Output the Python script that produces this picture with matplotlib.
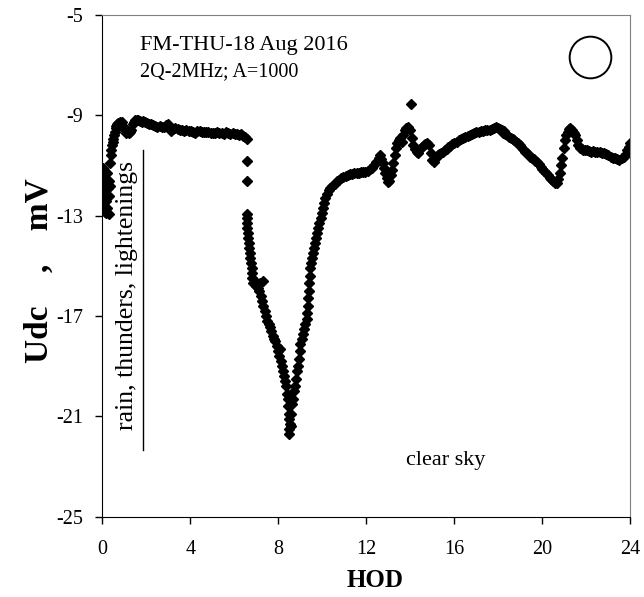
import numpy as np
import matplotlib
matplotlib.use('Agg')
import matplotlib.pyplot as plt

# hour of day / Udc (mV)
hod_start = [0.02, 0.04, 0.05, 0.07, 0.08, 0.10, 0.12, 0.14, 0.16, 0.18, 0.20, 0.22, 0.25, 0.28,
             0.30, 0.32, 0.34, 0.36, 0.38, 0.40, 0.43, 0.46, 0.50, 0.53, 0.57, 0.60, 0.64, 0.68,
             0.72, 0.78, 0.84, 0.90, 0.96, 1.02, 1.08, 1.14, 1.20, 1.26, 1.32, 1.38, 1.44, 1.50,
             1.56, 1.62, 1.70, 1.78, 1.86, 1.94, 2.02, 2.10, 2.20, 2.30, 2.40, 2.50, 2.60, 2.70,
             2.80, 2.90, 2.98, 3.06, 3.14, 3.22, 3.32, 3.42, 3.52, 3.62, 3.72, 3.82, 3.92, 4.02,
             4.12, 4.22, 4.32, 4.42, 4.52, 4.62, 4.72, 4.82, 4.92, 5.02, 5.12, 5.22, 5.32, 5.42,
             5.52, 5.62, 5.72, 5.82, 5.92, 6.02, 6.12, 6.22, 6.32, 6.40, 6.48, 6.55]
udc_start = [-11.1, -11.7, -12.3, -11.2, -12.6, -12.0, -12.85, -11.5, -12.4, -12.9, -11.3, -12.7,
             -11.9, -11.6, -12.95, -12.2, -11.8, -10.9, -10.6, -10.4, -10.2, -10.05, -9.95, -9.8,
             -9.65, -9.5, -9.42, -9.35, -9.3, -9.25, -9.3, -9.28, -9.45, -9.6, -9.7, -9.68, -9.72,
             -9.66, -9.6, -9.35, -9.25, -9.2, -9.18, -9.2, -9.22, -9.25, -9.24, -9.28, -9.3, -9.33,
             -9.35, -9.38, -9.42, -9.45, -9.44, -9.48, -9.45, -9.4, -9.35, -9.48, -9.62, -9.55,
             -9.52, -9.55, -9.6, -9.58, -9.62, -9.6, -9.64, -9.62, -9.66, -9.7, -9.62, -9.64,
             -9.66, -9.65, -9.67, -9.68, -9.72, -9.7, -9.72, -9.68, -9.72, -9.7, -9.74, -9.66,
             -9.72, -9.74, -9.72, -9.76, -9.74, -9.78, -9.76, -9.82, -9.86, -9.95]

hod_dip = [6.57, 6.57, 6.55, 6.56, 6.57, 6.58, 6.60, 6.62, 6.65, 6.68, 6.70, 6.72, 6.75, 6.78,
           6.80, 6.82, 6.86, 6.92, 6.98, 7.05, 7.10, 7.15, 7.20, 7.25, 7.30, 7.32, 7.38, 7.44,
           7.50, 7.56, 7.62, 7.68, 7.74, 7.80, 7.86, 7.92, 7.98, 8.03, 8.06, 8.10, 8.15, 8.20,
           8.25, 8.30, 8.35, 8.38, 8.42, 8.45, 8.48, 8.50, 8.52, 8.48, 8.50, 8.55, 8.58, 8.62,
           8.68, 8.72, 8.76, 8.80, 8.84, 8.88, 8.92, 8.96, 9.00, 9.05, 9.10, 9.16, 9.22, 9.28,
           9.32, 9.35, 9.36, 9.38, 9.40, 9.42, 9.45, 9.48, 9.52, 9.56, 9.60, 9.65, 9.70, 9.75,
           9.80, 9.86, 9.92, 9.97, 10.02, 10.07, 10.13, 10.20, 10.28, 10.36]
udc_dip = [-10.82, -11.62, -12.95, -13.1, -13.3, -13.5, -13.7, -13.9, -14.1, -14.3, -14.5, -14.7,
           -14.9, -15.1, -15.3, -15.5, -15.7, -15.6, -15.8, -15.9, -16.0, -15.7, -16.2, -16.4,
           -15.6, -16.6, -16.8, -17.0, -17.2, -17.3, -17.45, -17.6, -17.8, -17.9, -18.0, -18.2,
           -18.4, -18.6, -18.3, -18.8, -19.0, -19.2, -19.4, -19.6, -19.8, -20.1, -20.3, -20.6,
           -20.9, -21.1, -21.3, -21.5, -21.7, -21.4, -20.9, -20.5, -20.3, -20.0, -19.8, -19.5,
           -19.2, -19.0, -18.7, -18.4, -18.1, -17.9, -17.7, -17.5, -17.3, -17.1, -16.9, -16.6,
           -16.3, -16.0, -15.7, -15.4, -15.1, -14.9, -14.7, -14.5, -14.3, -14.1, -13.9, -13.7,
           -13.5, -13.3, -13.1, -12.9, -12.7, -12.5, -12.3, -12.15, -11.98, -11.88]

hod_end = [10.45, 10.55, 10.65, 10.75, 10.85, 10.95, 11.05, 11.15, 11.25, 11.35, 11.45, 11.55,
           11.65, 11.75, 11.85, 11.95, 12.05, 12.15, 12.25, 12.35, 12.45, 12.55, 12.62, 12.68,
           12.74, 12.80, 12.86, 12.92, 12.98, 13.04, 13.10, 13.16, 13.22, 13.28, 13.34, 13.40,
           13.46, 13.52, 13.60, 13.68, 13.75, 13.82, 13.90, 13.96, 14.02, 14.06, 14.12, 14.20,
           14.28, 14.36, 14.44, 14.52, 14.60, 14.68, 14.76, 14.84, 14.92, 15.00, 15.08, 15.16,
           15.24, 15.32, 15.40, 15.48, 15.56, 15.64, 15.72, 15.80, 15.90, 16.00, 16.10, 16.20,
           16.30, 16.40, 16.50, 16.60, 16.70, 16.80, 16.90, 17.00, 17.10, 17.20, 17.30, 17.40,
           17.50, 17.60, 17.70, 17.80, 17.90, 17.98, 18.06, 18.14, 18.20, 18.26, 18.32, 18.40,
           18.48, 18.56, 18.64, 18.72, 18.80, 18.88, 18.96, 19.04, 19.12, 19.20, 19.28, 19.36,
           19.44, 19.52, 19.60, 19.68, 19.76, 19.84, 19.92, 20.00, 20.08, 20.16, 20.24, 20.32,
           20.40, 20.48, 20.56, 20.64, 20.72, 20.78, 20.84, 20.90, 20.96, 21.02, 21.08, 21.14,
           21.20, 21.26, 21.32, 21.38, 21.44, 21.50, 21.56, 21.62, 21.70, 21.78, 21.86, 21.94,
           22.02, 22.10, 22.20, 22.30, 22.40, 22.50, 22.60, 22.70, 22.80, 22.90, 23.00, 23.10,
           23.20, 23.30, 23.40, 23.50, 23.60, 23.70, 23.78, 23.86, 23.92, 23.98]
udc_end = [-11.8, -11.72, -11.62, -11.56, -11.5, -11.46, -11.42, -11.38, -11.36, -11.33, -11.3,
           -11.32, -11.3, -11.28, -11.26, -11.27, -11.24, -11.15, -11.1, -11.0, -10.85, -10.7,
           -10.6, -10.75, -10.9, -11.1, -11.3, -11.5, -11.65, -11.6, -11.4, -11.2, -10.9, -10.6,
           -10.3, -10.1, -10.0, -9.9, -10.05, -9.8, -9.6, -9.5, -9.45, -9.6, -8.56, -9.9, -10.2,
           -10.35, -10.45, -10.5, -10.35, -10.25, -10.2, -10.15, -10.12, -10.2, -10.5, -10.8,
           -10.85, -10.7, -10.6, -10.55, -10.5, -10.48, -10.4, -10.35, -10.28, -10.22, -10.15,
           -10.1, -10.05, -9.98, -9.95, -9.9, -9.85, -9.82, -9.78, -9.74, -9.72, -9.68, -9.66,
           -9.64, -9.62, -9.6, -9.6, -9.58, -9.55, -9.5, -9.46, -9.5, -9.55, -9.6, -9.7, -9.62,
           -9.75, -9.8, -9.85, -9.9, -9.95, -10.0, -10.05, -10.1, -10.2, -10.28, -10.35, -10.45,
           -10.5, -10.55, -10.65, -10.7, -10.75, -10.82, -10.88, -10.95, -11.05, -11.15, -11.22,
           -11.3, -11.4, -11.48, -11.55, -11.62, -11.7, -11.68, -11.55, -11.3, -11.0, -10.7,
           -10.3, -10.0, -9.8, -9.65, -9.55, -9.52, -9.6, -9.65, -9.72, -9.8, -10.0, -10.2, -10.3,
           -10.35, -10.38, -10.4, -10.38, -10.42, -10.45, -10.42, -10.45, -10.48, -10.45, -10.5,
           -10.52, -10.55, -10.6, -10.65, -10.7, -10.72, -10.75, -10.78, -10.72, -10.65, -10.55,
           -10.4, -10.25, -10.12]

x_ticks = [0, 4, 8, 12, 16, 20, 24]
y_ticks = [-25, -21, -17, -13, -9, -5]

hod = np.array(hod_start + hod_dip + hod_end)
udc = np.array(udc_start + udc_dip + udc_end)

plt.rcParams['font.family'] = ['Liberation Serif', 'DejaVu Serif']
plt.rcParams['axes.unicode_minus'] = False

fig = plt.figure(figsize=(6.44, 5.97), dpi=100)
ax = fig.add_axes([0.159, 0.1345, 0.82, 0.8405])

ax.plot(hod, udc, linestyle='None', marker='D', markersize=5, color='black')

ax.set_xlim(0, 24)
ax.set_ylim(-25, -5)
ax.set_xticks(x_ticks)
ax.set_yticks(y_ticks)
ax.tick_params(direction='out', length=5, width=1, labelsize=14.5, colors='black')
ax.tick_params(axis='x', pad=12)
ax.tick_params(axis='y', pad=9)
ax.spines['top'].set_color('#808080')
ax.spines['right'].set_color('#808080')

ax.set_xlabel('HOD', fontsize=18, fontweight='bold', labelpad=3)
ax.xaxis.set_label_coords(0.516, -0.105)
ax.set_ylabel('Udc    ,    mV', fontsize=24, fontweight='bold')
ax.yaxis.set_label_coords(-0.09, 0.49)

ax.text(0.071, 0.958, 'FM-THU-18 Aug 2016', transform=ax.transAxes, fontsize=16, va='top', ha='left')
ax.text(0.071, 0.905, '2Q-2MHz; A=1000', transform=ax.transAxes, fontsize=14.5, va='top', ha='left')
ax.plot([0.923], [0.916], transform=ax.transAxes, marker='o', markersize=30, markerfacecolor='none',
        markeredgecolor='black', markeredgewidth=1.4, clip_on=False)

ax.plot([1.85, 1.85], [-10.4, -22.35], color='black', linewidth=1)
ax.text(1.12, -16.2, 'rain, thunders, lightenings', rotation=90, fontsize=18.5, ha='center', va='center')
ax.text(15.6, -22.75, 'clear sky', fontsize=16, ha='center', va='center')

fig.savefig('out.png', dpi=100)
